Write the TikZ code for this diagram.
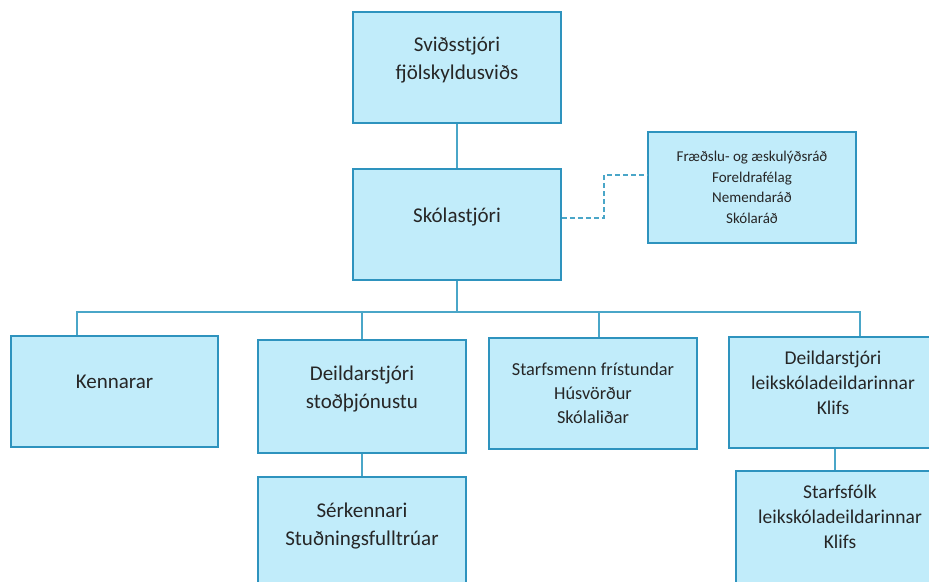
\documentclass[tikz,border=0pt]{standalone}
\usepackage{fontspec}
\setmainfont{Carlito}
\definecolor{boxfill}{HTML}{C1ECFA}
\definecolor{boxline}{HTML}{2E93BE}
\definecolor{linkline}{HTML}{4AA6C8}
\definecolor{boxtext}{HTML}{262626}

\begin{document}
\begin{tikzpicture}[
            x=1pt,y=-1pt,
            every node/.style={rectangle,draw=boxline,fill=boxfill,line width=1.5pt,
                minimum width=208pt,minimum height=111pt,inner sep=0pt,align=center,
                text=boxtext,font=\fontsize{21}{28}\selectfont},
            up/.style={text depth=19pt},
            leikfont/.style={font=\fontsize{19.5}{25}\selectfont,text depth=20pt},
            link/.style={draw=linkline,line width=1.5pt},
            dashlink/.style={link,dashed,dash pattern=on 5pt off 3pt}
        ]
        \useasboundingbox (0,0) rectangle (929,581);
        \clip (0,0) rectangle (929,581);

        \node[up] (svid) at (457,67.5)    {Sviðsstjóri\\fjölskyldusviðs};
        \node[up] (skola) at (457,224.5)  {Skólastjóri};
        \node[font=\fontsize{15}{20.5}\selectfont] (rad) at (752,187.5)
            {Fræðslu- og æskulýðsráð\\Foreldrafélag\\Nemendaráð\\Skólaráð};
        \node[up,minimum width=207pt] (kenn) at (114.5,391.5) {Kennarar};
        \node[up,minimum height=113pt] (deild) at (362,396.5)  {Deildarstjóri\\stoðþjónustu};
        \node[up,minimum height=113pt] (serk) at (362,533.5)   {Sérkennari\\Stuðningsfulltrúar};
        \node[font=\fontsize{18.3}{24}\selectfont] (starf) at (593,393.5)
            {Starfsmenn frístundar\\Húsvörður\\Skólaliðar};
        \node[leikfont] (leik) at (833,392.5) {Deildarstjóri\\leikskóladeildarinnar\\Klifs};
        \node[leikfont,minimum height=125pt,text depth=34pt] (folk) at (840,533.5)
            {Starfsfólk\\leikskóladeildarinnar\\Klifs};

        \coordinate (bus) at (457,312);

        \draw[link] (svid) -- (skola);
        \draw[link] (skola) -- (bus);
        \draw[link] (bus) -| ([xshift=-37.5pt]kenn.north);
        \draw[link] (bus) -| (deild.north);
        \draw[link] (bus) -| ([xshift=6pt]starf.north);
        \draw[link] (bus) -| ([xshift=27pt]leik.north);
        \draw[link] (deild) -- (serk);
        \draw[link] ([xshift=2pt]leik.south) -- ([xshift=-5pt]folk.north);
        \draw[dashlink] ([yshift=6.5pt]skola.east) -- ++(42,0) |- ([yshift=12.5pt]rad.west);
    \end{tikzpicture}
\end{document}
